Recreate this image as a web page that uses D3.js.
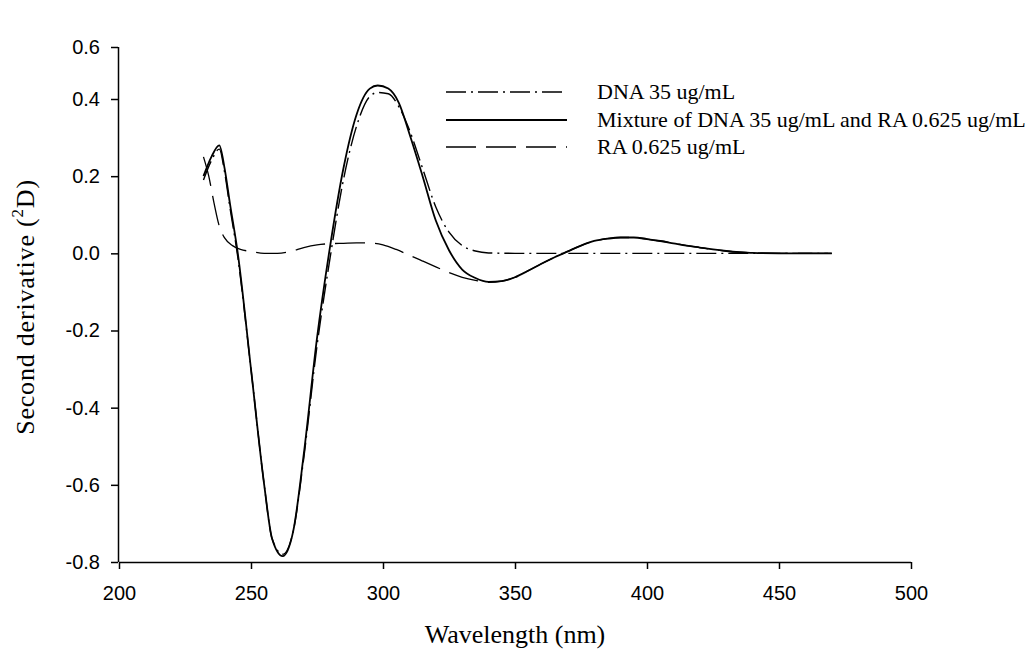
<!DOCTYPE html>
<html><head><meta charset="utf-8">
<script src="https://cdn.jsdelivr.net/npm/d3@7"></script>
<style>body{margin:0;background:#fff}</style>
</head><body>
<svg id="c" width="1036" height="653"></svg>
<script>
// Wavelength (nm) and second-derivative values
const dnaX = [232,235,238,240,242,245,250,255,258,262,266,270,275,280,285,290,295,298,302,306,310,315,320,325,330,335,340,350,380,410,440,470];
const dnaY = [0.19,0.24,0.27,0.21,0.12,-0.01,-0.30,-0.60,-0.74,-0.78,-0.72,-0.53,-0.24,-0.01,0.19,0.33,0.41,0.425,0.42,0.38,0.32,0.22,0.12,0.055,0.02,0.006,0.001,0,0,0,0,0];

const mixX = [232,235,238,240,242,245,250,255,258,262,266,270,275,280,285,290,295,298,302,306,310,315,320,325,330,335,340,345,350,355,360,365,370,375,380,385,390,395,400,405,410,415,420,425,430,435,440,450,460,470];
const mixY = [0.20,0.25,0.28,0.22,0.13,0.0,-0.30,-0.60,-0.74,-0.785,-0.72,-0.52,-0.22,0.02,0.22,0.36,0.44,0.452,0.44,0.39,0.31,0.20,0.085,0.008,-0.042,-0.064,-0.074,-0.072,-0.062,-0.045,-0.027,-0.01,0.005,0.02,0.032,0.038,0.041,0.041,0.037,0.032,0.026,0.02,0.015,0.01,0.006,0.003,0.001,0,0,0];

const raX = [232,234,236,238,240,243,246,250,255,260,265,270,275,280,285,290,295,300,305,310,315,320,325,330,335,340,345,350,355,360,365,370,375,380,385,390,395,400,405,410,415,420,425,430,435,440,450,460,470];
const raY = [0.25,0.20,0.13,0.07,0.04,0.02,0.01,0.005,0.0,0.0,0.005,0.015,0.022,0.025,0.026,0.027,0.027,0.022,0.01,-0.005,-0.02,-0.035,-0.05,-0.062,-0.07,-0.075,-0.072,-0.062,-0.045,-0.027,-0.01,0.005,0.02,0.032,0.038,0.041,0.041,0.037,0.032,0.026,0.02,0.015,0.01,0.006,0.003,0.001,0,0,0];

const xTicks = [200,250,300,350,400,450,500];
const yTicks = [-0.8,-0.6,-0.4,-0.2,0.0,0.2,0.4,0.6];
const seriesNames = ["DNA 35 ug/mL","Mixture of DNA 35 ug/mL and RA 0.625 ug/mL","RA 0.625 ug/mL"];

const svg = d3.select("#c");
const x = d3.scaleLinear().domain([200,500]).range([119,911]);
const y = d3.scaleLinear().domain([-0.8,0.4,0.6]).range([562,99,47]);

const sans = "'Liberation Sans', Arial, sans-serif";
const serif = "'Liberation Serif', 'Times New Roman', serif";

// axes
const xAxis = svg.append("g").attr("transform","translate(0,562)")
  .call(d3.axisBottom(x).tickValues(xTicks).tickFormat(d=>String(d)).tickSize(7).tickPadding(17));
const yAxis = svg.append("g").attr("transform","translate(118,0)")
  .call(d3.axisLeft(y).tickValues(yTicks).tickFormat(d=>d.toFixed(1)).tickSize(7).tickPadding(11));
[xAxis,yAxis].forEach(g=>{
  g.select(".domain").attr("stroke","#000").attr("stroke-width",1.5);
  g.selectAll(".tick line").attr("stroke","#000").attr("stroke-width",1.5);
  g.selectAll(".tick text").attr("font-family",sans).attr("font-size",20).attr("fill","#000");
});
xAxis.select(".domain").attr("d","M"+x(200)+",0.5H"+x(500));
yAxis.select(".domain").attr("d","M0.5,"+y(0.6)+"V"+y(-0.8));

// lines
const line = d3.line().x(d=>x(d[0])).y(d=>y(d[1])).curve(d3.curveMonotoneX);
const zip = (a,b)=>a.map((v,i)=>[v,b[i]]);
const styles = [
  {data: zip(dnaX,dnaY), dash:"20,5,2,5", w:1.4},
  {data: zip(mixX,mixY), dash:null, w:1.8},
  {data: zip(raX,raY), dash:"30,10", w:1.3}
];
styles.forEach(s=>{
  svg.append("path").attr("d",line(s.data)).attr("fill","none")
    .attr("stroke","#000").attr("stroke-width",s.w)
    .attr("stroke-dasharray",s.dash);
});

// legend
const legY = [92,120,147];
styles.forEach((s,i)=>{
  svg.append("line").attr("x1",446).attr("x2",567).attr("y1",legY[i]).attr("y2",legY[i])
    .attr("stroke","#000").attr("stroke-width",s.w).attr("stroke-dasharray",s.dash);
  svg.append("text").attr("x",597).attr("y",legY[i]+7)
    .attr("font-family",serif).attr("font-size",22).attr("fill","#000")
    .text(seriesNames[i]);
});

// axis titles
svg.append("text").attr("x",515).attr("y",643).attr("text-anchor","middle")
  .attr("font-family",serif).attr("font-size",26).attr("fill","#000")
  .text("Wavelength (nm)");
const yt = svg.append("text").attr("transform","translate(34,307) rotate(-90)")
  .attr("text-anchor","middle").attr("font-family",serif).attr("font-size",26).attr("letter-spacing",0.8).attr("fill","#000");
yt.append("tspan").text("Second derivative (");
yt.append("tspan").attr("font-size",17).attr("dy",-11).text("2");
yt.append("tspan").attr("dy",11).text("D)");
</script>
</body></html>
